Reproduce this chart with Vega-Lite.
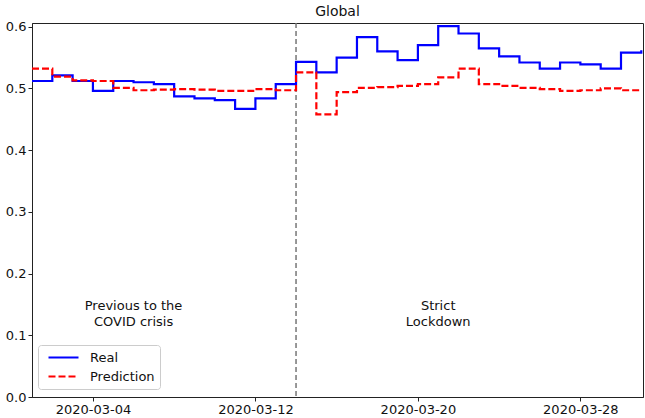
{
  "$schema": "https://vega.github.io/schema/vega-lite/v6.json",
  "width": 611,
  "height": 374,
  "autosize": "none",
  "padding": {"left": 32, "top": 23, "right": 2, "bottom": 21},
  "background": "white",
  "config": {
    "font": "DejaVu Sans",
    "view": {"stroke": "#222", "strokeWidth": 1},
    "axis": {"grid": false, "domainColor": "#222", "tickColor": "#222", "labelColor": "#111", "labelFontSize": 13, "tickSize": 4, "labelFont": "DejaVu Sans", "labelPadding": 2}
  },
  "title": {"text": "Global", "fontSize": 14, "fontWeight": "normal", "font": "DejaVu Sans", "color": "#111", "offset": 2},
  "datasets": {
    "series": [
      {"date": "2020-03-01", "series": "Real", "value": 0.512},
      {"date": "2020-03-02", "series": "Real", "value": 0.521},
      {"date": "2020-03-03", "series": "Real", "value": 0.512},
      {"date": "2020-03-04", "series": "Real", "value": 0.496},
      {"date": "2020-03-05", "series": "Real", "value": 0.512},
      {"date": "2020-03-06", "series": "Real", "value": 0.510},
      {"date": "2020-03-07", "series": "Real", "value": 0.507},
      {"date": "2020-03-08", "series": "Real", "value": 0.487},
      {"date": "2020-03-09", "series": "Real", "value": 0.484},
      {"date": "2020-03-10", "series": "Real", "value": 0.481},
      {"date": "2020-03-11", "series": "Real", "value": 0.467},
      {"date": "2020-03-12", "series": "Real", "value": 0.484},
      {"date": "2020-03-13", "series": "Real", "value": 0.507},
      {"date": "2020-03-14", "series": "Real", "value": 0.543},
      {"date": "2020-03-15", "series": "Real", "value": 0.526},
      {"date": "2020-03-16", "series": "Real", "value": 0.550},
      {"date": "2020-03-17", "series": "Real", "value": 0.583},
      {"date": "2020-03-18", "series": "Real", "value": 0.560},
      {"date": "2020-03-19", "series": "Real", "value": 0.546},
      {"date": "2020-03-20", "series": "Real", "value": 0.570},
      {"date": "2020-03-21", "series": "Real", "value": 0.601},
      {"date": "2020-03-22", "series": "Real", "value": 0.589},
      {"date": "2020-03-23", "series": "Real", "value": 0.565},
      {"date": "2020-03-24", "series": "Real", "value": 0.552},
      {"date": "2020-03-25", "series": "Real", "value": 0.542},
      {"date": "2020-03-26", "series": "Real", "value": 0.532},
      {"date": "2020-03-27", "series": "Real", "value": 0.542},
      {"date": "2020-03-28", "series": "Real", "value": 0.539},
      {"date": "2020-03-29", "series": "Real", "value": 0.532},
      {"date": "2020-03-30", "series": "Real", "value": 0.558},
      {"date": "2020-03-31", "series": "Real", "value": 0.562},
      {"date": "2020-03-01", "series": "Prediction", "value": 0.532},
      {"date": "2020-03-02", "series": "Prediction", "value": 0.519},
      {"date": "2020-03-03", "series": "Prediction", "value": 0.513},
      {"date": "2020-03-04", "series": "Prediction", "value": 0.512},
      {"date": "2020-03-05", "series": "Prediction", "value": 0.501},
      {"date": "2020-03-06", "series": "Prediction", "value": 0.497},
      {"date": "2020-03-07", "series": "Prediction", "value": 0.498},
      {"date": "2020-03-08", "series": "Prediction", "value": 0.499},
      {"date": "2020-03-09", "series": "Prediction", "value": 0.498},
      {"date": "2020-03-10", "series": "Prediction", "value": 0.496},
      {"date": "2020-03-11", "series": "Prediction", "value": 0.496},
      {"date": "2020-03-12", "series": "Prediction", "value": 0.499},
      {"date": "2020-03-13", "series": "Prediction", "value": 0.497},
      {"date": "2020-03-14", "series": "Prediction", "value": 0.526},
      {"date": "2020-03-15", "series": "Prediction", "value": 0.458},
      {"date": "2020-03-16", "series": "Prediction", "value": 0.494},
      {"date": "2020-03-17", "series": "Prediction", "value": 0.501},
      {"date": "2020-03-18", "series": "Prediction", "value": 0.502},
      {"date": "2020-03-19", "series": "Prediction", "value": 0.504},
      {"date": "2020-03-20", "series": "Prediction", "value": 0.507},
      {"date": "2020-03-21", "series": "Prediction", "value": 0.518},
      {"date": "2020-03-22", "series": "Prediction", "value": 0.532},
      {"date": "2020-03-23", "series": "Prediction", "value": 0.507},
      {"date": "2020-03-24", "series": "Prediction", "value": 0.504},
      {"date": "2020-03-25", "series": "Prediction", "value": 0.501},
      {"date": "2020-03-26", "series": "Prediction", "value": 0.499},
      {"date": "2020-03-27", "series": "Prediction", "value": 0.496},
      {"date": "2020-03-28", "series": "Prediction", "value": 0.497},
      {"date": "2020-03-29", "series": "Prediction", "value": 0.500},
      {"date": "2020-03-30", "series": "Prediction", "value": 0.497},
      {"date": "2020-03-31", "series": "Prediction", "value": 0.497}
    ],
    "events": [{"date": "2020-03-14"}],
    "notes": [
      {"date": "2020-03-06", "y": 0.148, "label": ["Previous to the", "COVID crisis"]},
      {"date": "2020-03-21", "y": 0.148, "label": ["Strict", "Lockdown"]}
    ]
  },
  "encoding": {
    "x": {
      "field": "date", "type": "temporal",
      "scale": {"type": "utc", "domain": [{"year": 2020, "month": 3, "date": 1, "utc": true}, {"year": 2020, "month": 3, "date": 31, "hours": 2, "utc": true}]},
      "axis": {
        "title": null,
        "labelExpr": "utcFormat(datum.value, '%Y-%m-%d')",
        "values": [
          {"year": 2020, "month": 3, "date": 4, "utc": true},
          {"year": 2020, "month": 3, "date": 12, "utc": true},
          {"year": 2020, "month": 3, "date": 20, "utc": true},
          {"year": 2020, "month": 3, "date": 28, "utc": true}
        ]
      }
    }
  },
  "layer": [
    {
      "data": {"name": "events"},
      "mark": {"type": "rule", "color": "#777", "strokeWidth": 1.5, "strokeDash": [5, 3]},
      "encoding": {}
    },
    {
      "data": {"name": "series"},
      "mark": {"type": "line", "interpolate": "step-after", "strokeWidth": 2.2, "clip": true},
      "encoding": {
        "y": {
          "field": "value", "type": "quantitative",
          "scale": {"domain": [0, 0.606], "nice": false, "zero": true},
          "axis": {"title": null, "values": [0, 0.1, 0.2, 0.3, 0.4, 0.5, 0.6], "format": ".1f"}
        },
        "color": {
          "field": "series", "type": "nominal",
          "scale": {"domain": ["Real", "Prediction"], "range": ["#0000ff", "#ff0000"]},
          "legend": {
            "title": null, "orient": "none", "legendX": 6, "legendY": 322,
            "symbolType": "M-2.5,0H2.5", "symbolSize": 144, "symbolStrokeWidth": 2.2, "symbolOffset": 13,
            "labelFontSize": 13, "labelFont": "DejaVu Sans", "labelColor": "#111",
            "padding": 5, "strokeColor": "#ccc", "fillColor": "white", "cornerRadius": 3,
            "rowPadding": 4, "labelOffset": 19
          }
        },
        "strokeDash": {
          "field": "series", "type": "nominal",
          "scale": {"domain": ["Real", "Prediction"], "range": [[1, 0], [7, 3]]},
          "legend": null
        }
      }
    },
    {
      "data": {"name": "notes"},
      "mark": {"type": "text", "fontSize": 13, "font": "DejaVu Sans", "color": "#111", "align": "center", "baseline": "middle", "lineHeight": 16},
      "encoding": {
        "y": {"field": "y", "type": "quantitative"},
        "text": {"field": "label"}
      }
    }
  ]
}
